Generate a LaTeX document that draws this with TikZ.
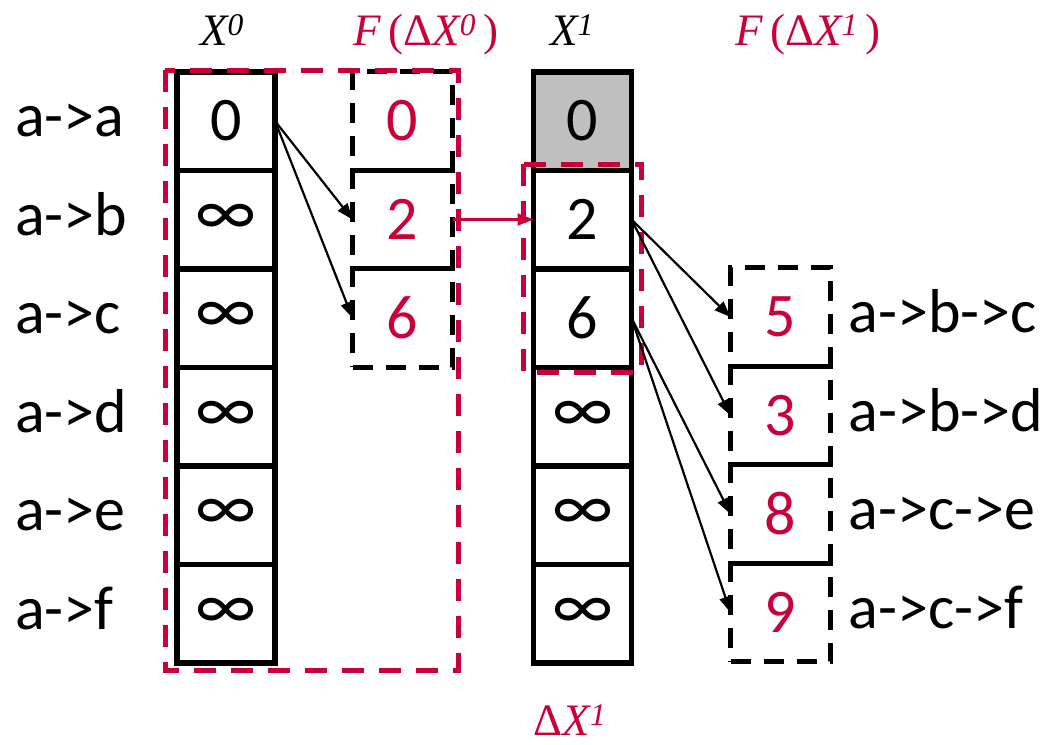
\documentclass[tikz,border=0pt]{standalone}
\usepackage{fontspec}
\setmainfont{Carlito}
\newfontfamily\labfont{Liberation Serif}
\usetikzlibrary{arrows.meta,positioning,calc}
\definecolor{DeltaRed}{HTML}{C8003C}
\definecolor{CellGray}{HTML}{BFBFBF}
\tikzset{
  cell/.style={draw=black, line width=5.5pt, minimum width=98pt, minimum height=98.5pt,
               inner sep=0pt, outer sep=0pt, font=\fontsize{62}{70}\selectfont},
  dcell/.style={draw=black, line width=5pt, dash pattern=on 20pt off 13pt,
                minimum width=100pt, minimum height=98.5pt, inner sep=0pt, outer sep=0pt,
                text=DeltaRed, font=\fontsize{62}{70}\selectfont},
  rowlab/.style={anchor=west, inner sep=0pt, text height=44pt, text depth=13pt,
                 font=\fontsize{62}{70}\selectfont},
  headlab/.style={anchor=base, inner sep=0pt, font=\labfont\fontsize{45}{50}\selectfont},
  deltabound/.style={draw=DeltaRed, line width=5pt, dash pattern=on 22pt off 15pt},
  arrow/.style={-{Triangle[length=16pt,width=12pt]}, line width=2.2pt, black},
  redarrow/.style={-{Triangle[length=16pt,width=12pt]}, line width=2.2pt, DeltaRed},
}
\newcommand{\infsym}{\scalebox{1.15}{∞}}

\begin{document}
\begin{tikzpicture}[x=1pt,y=-1pt]
  \useasboundingbox (0,0) rectangle (1051,744);

  % X^0 column
  \node[cell] (x0a) at (226,121) {0};
  \node[cell, below=0pt of x0a] (x0b) {\infsym};
  \node[cell, below=0pt of x0b] (x0c) {\infsym};
  \node[cell, below=0pt of x0c] (x0d) {\infsym};
  \node[cell, below=0pt of x0d] (x0e) {\infsym};
  \node[cell, below=0pt of x0e] (x0f) {\infsym};

  % row labels
  \node[rowlab] (la) at ($(x0a.center)+(-211,0)$) {a->a};
  \node[rowlab] (lb) at ($(x0b.center)+(-211,0)$) {a->b};
  \node[rowlab] (lc) at ($(x0c.center)+(-211,0)$) {a->c};
  \node[rowlab] (ld) at ($(x0d.center)+(-211,0)$) {a->d};
  \node[rowlab] (le) at ($(x0e.center)+(-211,0)$) {a->e};
  \node[rowlab] (lf) at ($(x0f.center)+(-211,0)$) {a->f};

  % F(dX^0)
  \node[dcell] (f0a) at (402.5,121) {0};
  \node[dcell, below=0pt of f0a] (f0b) {2};
  \node[dcell, below=0pt of f0b] (f0c) {6};

  % X^1 column
  \node[cell, fill=CellGray] (x1a) at (582.5,121) {0};
  \node[cell, below=0pt of x1a] (x1b) {2};
  \node[cell, below=0pt of x1b] (x1c) {6};
  \node[cell, below=0pt of x1c] (x1d) {\infsym};
  \node[cell, below=0pt of x1d] (x1e) {\infsym};
  \node[cell, below=0pt of x1e] (x1f) {\infsym};

  % F(dX^1)
  \node[dcell] (f1c) at (780.5,317) {5};
  \node[dcell, below=0pt of f1c] (f1d) {3};
  \node[dcell, below=0pt of f1d] (f1e) {8};
  \node[dcell, below=0pt of f1e] (f1f) {9};

  \node[rowlab] (pc) at ($(f1c.east)+(18,0)$) {a->b->c};
  \node[rowlab] (pd) at ($(f1d.east)+(18,0)$) {a->b->d};
  \node[rowlab] (pe) at ($(f1e.east)+(18,0)$) {a->c->e};
  \node[rowlab] (pf) at ($(f1f.east)+(18,0)$) {a->c->f};

  % delta frames
  \draw[deltabound] (165,70) rectangle (458,670);
  \draw[deltabound] (523,164) rectangle (641,372);

  % headers
  \node[headlab] (hx0) at (222,45) {\itshape X\textsuperscript{0}};
  \node[headlab, text=DeltaRed] (hf0) at (426,45)
        {{\itshape F}\,(Δ{\itshape X}\textsuperscript{\itshape 0}\,)};
  \node[headlab] (hx1) at (572,45) {\itshape X\textsuperscript{1}};
  \node[headlab, text=DeltaRed] (hf1) at (808,45)
        {{\itshape F}\,(Δ{\itshape X}\textsuperscript{\itshape 1}\,)};
  \node[headlab, text=DeltaRed] (hd1) at (570,735)
        {Δ{\itshape X}\textsuperscript{\itshape 1}};

  % propagation
  \draw[arrow] (x0a.east) -- (f0b.west);
  \draw[arrow] (x0a.east) -- (f0c.west);
  \draw[redarrow] (f0b.east) -- (x1b.west);
  \draw[arrow] (x1b.east) -- (f1c.west);
  \draw[arrow] (x1b.east) -- (f1d.west);
  \draw[arrow] (x1c.east) -- (f1e.west);
  \draw[arrow] (x1c.east) -- (f1f.west);

\end{tikzpicture}
\end{document}
